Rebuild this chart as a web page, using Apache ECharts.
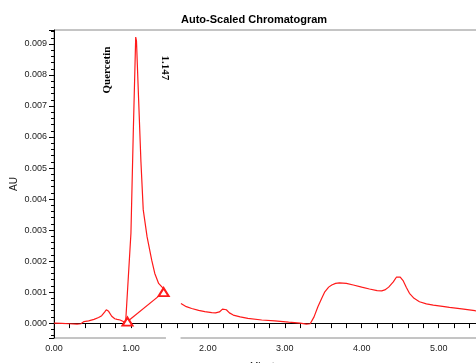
<!DOCTYPE html>
<html>
<head>
<meta charset="utf-8">
<script src="https://cdn.jsdelivr.net/npm/echarts@6/dist/echarts.min.js"></script>
<style>
  html, body { margin: 0; padding: 0; background: #fff; }
  #main { width: 476px; height: 363px; }
</style>
</head>
<body>
<div id="main"></div>
<script>
// retention time (minutes) and absorbance (AU)
const minutes = [
  0, 0.1, 0.2, 0.3, 0.35, 0.39, 0.45, 0.52, 0.58, 0.62, 0.66, 0.68, 0.71, 0.75, 0.79, 0.82, 0.86, 0.9, 0.93, 0.955,
  1.0, 1.03, 1.062, 1.072, 1.10, 1.13, 1.16, 1.21, 1.27, 1.31, 1.36, 1.42, 1.44,
  1.55,
  1.65, 1.72, 1.79, 1.88, 1.96, 2.05, 2.10, 2.15, 2.19, 2.21, 2.24, 2.28, 2.33, 2.42, 2.52, 2.7, 2.87, 3.05, 3.2, 3.28,
  3.33, 3.38, 3.43, 3.48, 3.52, 3.57, 3.61, 3.66, 3.71, 3.8, 3.89, 4.0, 4.1, 4.2, 4.26, 4.3, 4.35, 4.41, 4.45, 4.47,
  4.5, 4.54, 4.58, 4.62, 4.68, 4.75, 4.84, 4.93, 5.05, 5.14, 5.3, 5.47, 5.55
];
const absorbance = [
  0.00000, -0.00001, -0.00002, -0.00003, -0.00002, 0.00005, 0.00007, 0.00012, 0.00018, 0.00024, 0.00036, 0.00043, 0.00038, 0.00022, 0.00014, 0.00012, 0.00010, 0.00005, -0.00002, 0.00002,
  0.0029, 0.0061, 0.00922, 0.0091, 0.0072, 0.0052, 0.00365, 0.00278, 0.00203, 0.0016, 0.00128, 0.00112, 0.00103,
  null,
  0.00063, 0.00053, 0.00047, 0.00041, 0.00037, 0.00034, 0.00033, 0.00036, 0.00045, 0.00047, 0.00043, 0.00033, 0.00026, 0.0002, 0.00015, 0.0001, 0.00007, 0.00003, 0.0, -0.00003,
  -0.00002, 0.0002, 0.00053, 0.0008, 0.00101, 0.00116, 0.00123, 0.00128, 0.0013, 0.00128, 0.00123, 0.00116, 0.0011, 0.00105, 0.00104, 0.00107, 0.00116, 0.00133, 0.00148, 0.00152,
  0.00148, 0.00136, 0.00115, 0.00096, 0.0008, 0.00069, 0.00062, 0.00058, 0.00054, 0.00051, 0.00046, 0.0004, 0.00038
];
// integration baseline drop points
const baseMinutes = [0.955, 1.425];
const baseAU = [0.00005, 0.00100];
// peak labels
const peakNames = ['Quercetin', '1.147'];
const peakLabelMin = [0.69, 1.44];
const peakLabelAU = [0.00816, 0.00823];
const peakLabelRotate = [90, -90];

const red = '#ff1a1a';
const chart = echarts.init(document.getElementById('main'));

const option = {
  backgroundColor: '#fff',
  animation: false,
  title: {
    text: 'Auto-Scaled Chromatogram',
    left: 176,
    top: 9,
    textStyle: { fontFamily: 'Liberation Sans', fontSize: 11, fontWeight: 'bold', color: '#000' }
  },
  grid: {
    left: 54, top: 30, right: -5, bottom: 25,
    outerBoundsMode: 'none',
    containLabel: false,
    show: true, borderColor: '#8a8a8a', borderWidth: 1
  },
  xAxis: {
    type: 'value',
    min: 0, max: 5.55, interval: 1,
    name: 'Minutes', nameLocation: 'middle', nameGap: 24,
    nameMoveOverlap: false,
    nameTextStyle: { fontFamily: 'Liberation Sans', fontSize: 10, color: '#222' },
    axisLine: { lineStyle: { color: '#000' } },
    axisTick: { length: 5, lineStyle: { color: '#000' } },
    minorTick: { show: true, splitNumber: 5, length: 5, lineStyle: { color: '#000' } },
    axisLabel: {
      margin: 6, fontFamily: 'Liberation Sans', fontSize: 9, color: '#222',
      showMaxLabel: false,
      formatter: v => v.toFixed(2)
    },
    splitLine: { show: false }
  },
  yAxis: {
    type: 'value',
    min: -0.00048, max: 0.00945, splitNumber: 10,
    name: 'AU', nameLocation: 'middle', nameGap: 35, nameRotate: 90,
    nameMoveOverlap: false,
    nameTextStyle: { fontFamily: 'Liberation Sans', fontSize: 10, color: '#222' },
    axisLine: { show: true, lineStyle: { color: '#000' } },
    axisTick: { length: 5, lineStyle: { color: '#000' } },
    minorTick: { show: true, splitNumber: 5, length: 3, lineStyle: { color: '#000' } },
    axisLabel: {
      margin: 7, fontFamily: 'Liberation Sans', fontSize: 9, color: '#222',
      showMinLabel: false, showMaxLabel: false,
      formatter: v => v.toFixed(3)
    },
    splitLine: { show: false }
  },
  series: [
    {
      type: 'line',
      data: minutes.map((m, i) => [m, absorbance[i]]),
      showSymbol: false,
      connectNulls: false,
      lineStyle: { color: red, width: 1.2 },
      markPoint: {
        symbol: 'circle', symbolSize: 0,
        label: {
          show: true, position: 'inside',
          fontFamily: 'Liberation Serif', fontSize: 11, fontWeight: 'bold', color: '#000'
        },
        data: peakNames.map((n, i) => ({
          coord: [peakLabelMin[i], peakLabelAU[i]],
          label: { formatter: n, rotate: peakLabelRotate[i] }
        }))
      }
    },
    {
      type: 'line',
      data: baseMinutes.map((m, i) => [m, baseAU[i]]),
      symbol: 'emptyTriangle', symbolSize: [10, 8],
      showSymbol: true,
      itemStyle: { color: red, borderWidth: 1.2 },
      lineStyle: { color: red, width: 1.2 },
      z: 5
    }
  ]
};
chart.setOption(option);

// white patch over the axis where the scan has a break
const p0 = chart.convertToPixel({ gridIndex: 0 }, [1.455, -0.00048]);
const p1 = chart.convertToPixel({ gridIndex: 0 }, [1.645, -0.00048]);
chart.setOption({
  graphic: [{
    type: 'rect',
    shape: { x: p0[0], y: p0[1] - 2, width: p1[0] - p0[0], height: 9 },
    style: { fill: '#fff' },
    z: 100
  }]
});
</script>
</body>
</html>
